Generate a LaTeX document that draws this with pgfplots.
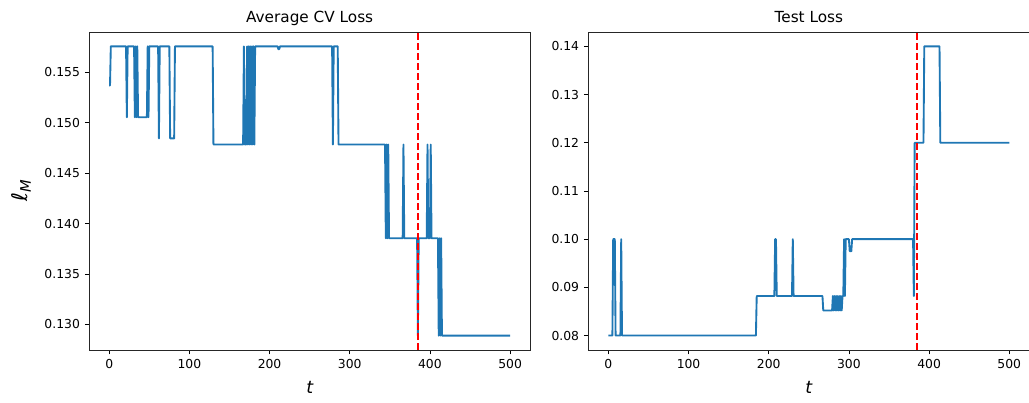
\documentclass[border=0pt]{standalone}
\usepackage{fontspec}
\setmainfont{DejaVu Sans}
\usepackage{pgfplots}
\pgfplotsset{compat=1.18}
\definecolor{mplblue}{HTML}{1F77B4}
\pgfplotsset{
  mystyle/.style={
    scale only axis, width=317.5pt, height=229pt,
    anchor=south west,
    xmin=-25, xmax=525,
    xtick={0,100,200,300,400,500},
    tick align=outside, tick pos=left,
    major tick length=3.15pt,
    tick style={black, line width=0.6pt},
    axis line style={line width=0.6pt, black!85},
    tick label style={font=\fontsize{8.9}{10}\selectfont},
    /pgf/number format/assume math mode=true,
    scaled y ticks=false,
    title style={font=\fontsize{11}{13}\selectfont, at={(0.5,1)}, anchor=base, yshift=0.5pt},
    xlabel={\fontsize{12.5}{14}\selectfont\itshape t},
    xlabel style={yshift=-2.5pt},
    every axis plot/.append style={line join=round},
  }
}
\begin{document}
\begin{tikzpicture}
\useasboundingbox (0,0) rectangle (740.88pt,289.44pt);
\begin{axis}[mystyle, at={(64.2pt,37.44pt)},
  title={Average CV Loss},
  ymin=0.12747, ymax=0.15901,
  ytick={0.13,0.135,0.14,0.145,0.15,0.155},
  yticklabel style={/pgf/number format/.cd, fixed, fixed zerofill, precision=3},
  ylabel={\fontsize{15.5}{16}\selectfont\itshape ℓ\raisebox{-0.3ex}{\fontsize{10.5}{11}\selectfont M}},
  ylabel style={at={(rel axis cs:0,0.5)}, anchor=center, yshift=49pt},
]
\addplot[mplblue, line width=1.35pt] coordinates {
(0,0.15371) (1,0.15371) (2,0.15758) (21,0.15758) (22,0.15055) (23,0.15758)
(31,0.15758) (32,0.15055) (33,0.15758) (34,0.15055) (35,0.15758) (36,0.15055)
(47,0.15055) (48,0.15758) (49,0.15055) (50,0.15758) (61,0.15758) (62,0.14845)
(63,0.15758) (75,0.15758) (76,0.14845) (81,0.14845) (82,0.15758) (129,0.15758)
(130,0.14785) (167,0.14785) (168,0.15758) (169,0.14785) (171,0.14785)
(172,0.15758) (173,0.14785) (174,0.15758) (175,0.14785) (176,0.15758) (177,0.14785)
(178,0.15758) (179,0.14785) (180,0.15758) (181,0.14785) (182,0.15758) (210,0.15758)
(211,0.1573) (212,0.1573) (213,0.15758) (278,0.15758) (279,0.14785) (280,0.15758)
(285,0.15758) (286,0.14785) (344,0.14785) (345,0.13855) (346,0.14785) (347,0.13855)
(348,0.14785) (349,0.13855) (366,0.13855) (367,0.14785) (368,0.13855) (384,0.13855)
(385,0.1289) (386,0.13855) (396,0.13855) (397,0.14785) (398,0.13855) (400,0.13855)
(401,0.14785) (402,0.13855) (410,0.13855) (411,0.1289) (412,0.13855) (413,0.1289)
(414,0.13855) (415,0.1289) (500,0.1289)
};
\addplot[red, line width=1.35pt, dash pattern=on 5pt off 2.2pt] coordinates {(385,0.12747) (385,0.15901)};
\end{axis}
\begin{axis}[mystyle, at={(423.6pt,37.44pt)},
  title={Test Loss},
  ymin=0.077, ymax=0.143,
  ytick={0.08,0.09,0.1,0.11,0.12,0.13,0.14},
  yticklabel style={/pgf/number format/.cd, fixed, fixed zerofill, precision=2},
]
\addplot[mplblue, line width=1.35pt] coordinates {
(0,0.08) (5,0.08) (6,0.1) (8,0.1) (9,0.08) (15,0.08) (16,0.1) (17,0.08)
(184,0.08) (185,0.0882) (207,0.0882) (208,0.1) (209,0.1) (210,0.0882)
(229,0.0882) (230,0.1) (231,0.0882) (267,0.0882) (268,0.0852) (279,0.0852)
(280,0.0882) (281,0.0852) (282,0.0882) (283,0.0852) (284,0.0882) (285,0.0852)
(286,0.0882) (287,0.0852) (288,0.0882) (289,0.0852) (290,0.0882) (291,0.0852)
(292,0.0882) (293,0.0882) (294,0.1) (295,0.0882) (296,0.1) (300,0.1)
(301,0.0975) (303,0.0975) (304,0.1) (380,0.1) (381,0.0882) (382,0.12)
(393,0.12) (394,0.14) (413,0.14) (414,0.12) (500,0.12)
};
\addplot[red, line width=1.35pt, dash pattern=on 5pt off 2.2pt] coordinates {(385,0.077) (385,0.143)};
\end{axis}
\end{tikzpicture}
\end{document}
